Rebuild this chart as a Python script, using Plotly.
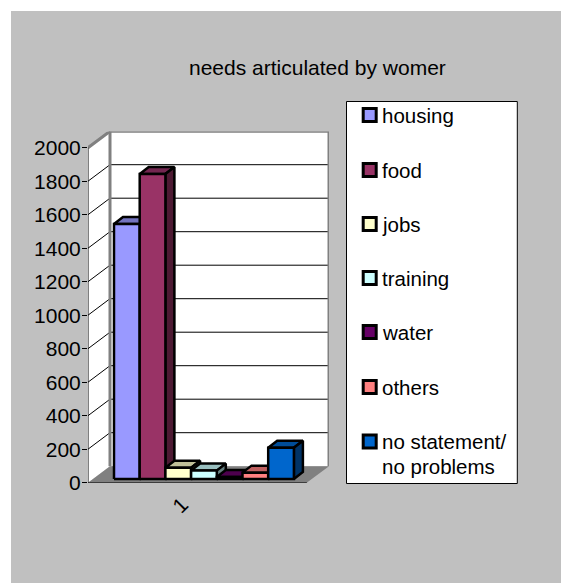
import plotly.graph_objects as go

W, H = 561, 583
categories = ["housing", "food", "jobs", "training", "water", "others", "no statement/<br>no problems"]
values = [1522, 1821, 67, 50, 12, 38, 187]
front_colors = ["#9999FF", "#993366", "#FFFFCC", "#CCFFFF", "#660066", "#FF8080", "#0066CC"]
top_colors = ["#7373BF", "#732650", "#BFBF99", "#99BFBF", "#4D004D", "#BF6060", "#004D99"]
side_colors = ["#4D4D80", "#4D1A33", "#808066", "#668080", "#330033", "#804040", "#003366"]
y_ticks = list(range(0, 2001, 200))
legend_rows = [115, 170, 224, 278, 332, 387, 441.5]
FONT_SIZE = 21
LEGEND_FONT_SIZE = 20.5

# Plot box in pixels, and the oblique projection used for the 3-D look
LEFT, RIGHT, TOP, BOTTOM = 88.0, 329.0, 131.7, 482.7
PX_PER_CAT = 25.7
PX_PER_UNIT = 0.1675
FIRST_CENTER = 126.85
x0 = (LEFT - FIRST_CENTER) / PX_PER_CAT
x1 = (RIGHT - FIRST_CENTER) / PX_PER_CAT
y1 = (BOTTOM - TOP) / PX_PER_UNIT

WALL_DX, WALL_DY = 22.0 / PX_PER_CAT, 16.5 / PX_PER_UNIT   # depth of the box
BAR_DX, BAR_DY = 9.0 / PX_PER_CAT, 7.0 / PX_PER_UNIT       # depth of a column
LIFT = 3.7 / PX_PER_UNIT                                   # columns stand inside the floor
FRONT_RIGHT = (306.7 - FIRST_CENTER) / PX_PER_CAT


def poly(xs, ys, fill, line=None, width=0):
    return go.Scatter(x=xs + xs[:1], y=ys + ys[:1], mode="lines", fill="toself", fillcolor=fill,
                      line=dict(color=line or fill, width=width), hoverinfo="skip", showlegend=False)


def stroke(xs, ys, color="#000000", width=1):
    return go.Scatter(x=xs, y=ys, mode="lines", line=dict(color=color, width=width),
                      hoverinfo="skip", showlegend=False)


fig = go.Figure()

# Walls and floor
back_l, back_b = x0 + WALL_DX, WALL_DY
top_val = 2000 + WALL_DY
fig.add_trace(poly([x0, back_l, back_l, x0], [0, back_b, top_val, 2000], "#FFFFFF"))
fig.add_trace(poly([back_l, x1, x1, back_l], [back_b, back_b, top_val, top_val], "#FFFFFF"))
fig.add_trace(poly([x0, FRONT_RIGHT, x1, back_l], [0, 0, back_b, back_b], "#808080"))

# Gridlines run along the side wall and across the back wall
for t in y_ticks[1:]:
    fig.add_trace(stroke([x0, back_l, x1], [t, t + WALL_DY, t + WALL_DY]))

# Wall frame
fig.add_trace(stroke([back_l, back_l], [back_b, top_val], "#808080", 3))
fig.add_trace(stroke([x0, back_l, x1, x1], [2000, top_val, top_val, back_b], "#808080", 3))
fig.add_trace(stroke([x0, x0], [0, 2000]))
fig.add_trace(stroke([x0, FRONT_RIGHT], [0, 0]))
for xt in (x0, FRONT_RIGHT):
    fig.add_trace(stroke([xt, xt], [0, -4 / PX_PER_UNIT]))

# Columns, left to right so each one overlaps its neighbour's side face
for i, v in enumerate(values):
    l, r = i - 0.5, i + 0.5
    b, t = LIFT, LIFT + v
    fig.add_trace(poly([l, l + BAR_DX, r + BAR_DX, r], [t, t + BAR_DY, t + BAR_DY, t],
                       top_colors[i], "#000000", 2.5))
    fig.add_trace(poly([r, r + BAR_DX, r + BAR_DX, r], [b, b + BAR_DY, t + BAR_DY, t],
                       side_colors[i], "#000000", 2.5))
    fig.add_trace(poly([l, r, r, l], [b, b, t, t], front_colors[i], "#000000", 2.5))


def px(x):
    return x / W


def py(y):
    return 1 - y / H


shapes = [
    dict(type="rect", xref="paper", yref="paper", x0=px(11), x1=1, y0=py(11), y1=0,
         fillcolor="#C0C0C0", line=dict(width=0), layer="below"),
    dict(type="rect", xref="paper", yref="paper", x0=px(346.5), x1=px(517.3), y0=py(101.5), y1=py(483.5),
         fillcolor="#FFFFFF", line=dict(color="#000000", width=1)),
]
annotations = [
    dict(text="needs articulated by womer", xref="paper", yref="paper", x=px(317), y=py(67),
         xanchor="center", yanchor="middle", showarrow=False, font=dict(size=FONT_SIZE, color="#000000")),
    dict(text="1", xref="paper", yref="paper", x=px(179.5), y=py(505), showarrow=False,
         xanchor="center", yanchor="middle", textangle=-45, font=dict(size=FONT_SIZE, color="#000000")),
]
for name, color, yc in zip(categories, front_colors, legend_rows):
    shapes.append(dict(type="rect", xref="paper", yref="paper", x0=px(363.2), x1=px(376.2),
                       y0=py(yc - 6.5), y1=py(yc + 6.5), fillcolor=color,
                       line=dict(color="#000000", width=3)))
    lines = name.split("<br>")
    for k, part in enumerate(lines):
        annotations.append(dict(text=part, xref="paper", yref="paper", x=px(379.5), y=py(yc + k * 24.5),
                                xanchor="left", yanchor="middle", showarrow=False,
                                font=dict(size=LEGEND_FONT_SIZE, color="#000000")))

fig.update_layout(
    template="none",
    width=W, height=H, margin=dict(l=0, r=0, t=0, b=0), paper_bgcolor="#FFFFFF", plot_bgcolor="rgba(0,0,0,0)",
    font=dict(family="Liberation Sans, Arial, sans-serif", size=FONT_SIZE, color="#000000"),
    showlegend=False, shapes=shapes, annotations=annotations,
    xaxis=dict(domain=[px(LEFT), px(RIGHT)], range=[x0, x1], visible=False, fixedrange=True, automargin=False),
    yaxis=dict(domain=[py(BOTTOM), py(TOP)], range=[0, y1], tickvals=y_ticks, ticks="outside", ticklen=5,
               tickcolor="#000000", tickwidth=1, showgrid=False, zeroline=False, showline=False,
               tickfont=dict(size=FONT_SIZE), ticklabelstandoff=-3, fixedrange=True, automargin=False),
)
fig.write_html("out.html", config=dict(displayModeBar=False))
